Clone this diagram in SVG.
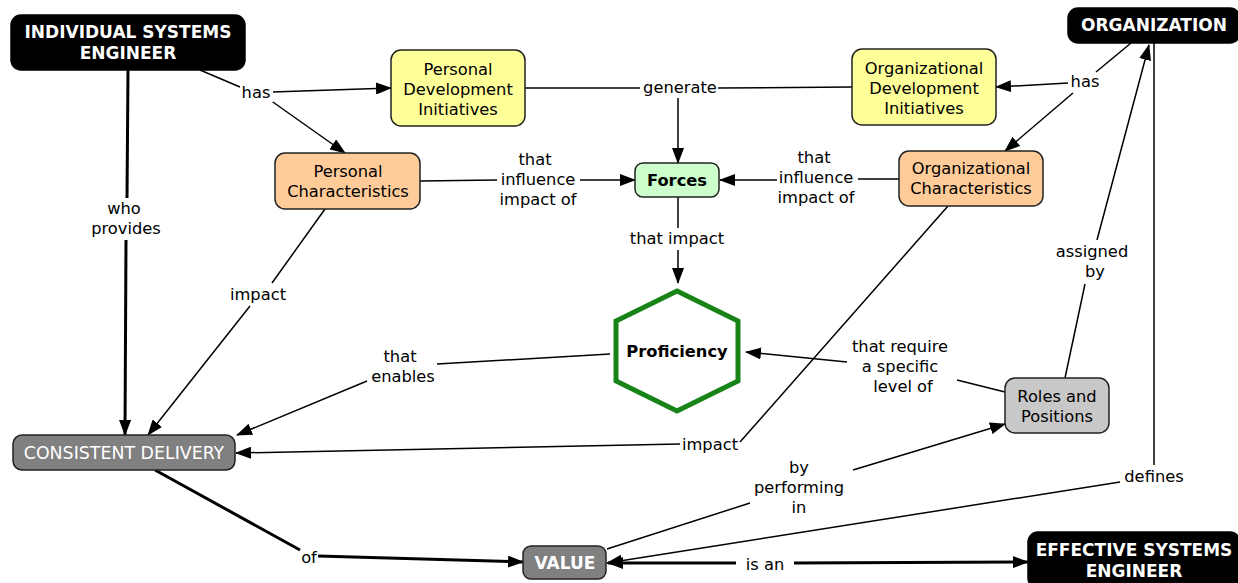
<svg xmlns="http://www.w3.org/2000/svg" width="1238" height="583" viewBox="0 0 1238 583">
<style>
text{font-family:"DejaVu Sans","Verdana",sans-serif;font-size:16.3px;fill:#000;text-anchor:middle}
.b{font-weight:bold;fill:#fff;font-size:17px}
.w{fill:#fff;font-size:17.4px}
.box{stroke:#222;stroke-width:1.5}
.blk{fill:#000;stroke:#000}
.yel{fill:#ffff99}
.org{fill:#ffcc99}
.grn{fill:#ccffcc}
.gry{fill:#c8c8c8}
.dg{fill:#808080}
.c{fill:none;stroke:#000;stroke-width:1.5}
.t{fill:none;stroke:#000;stroke-width:3}
.a{marker-end:url(#ar)}
</style>
<defs>
<marker id="ar" markerUnits="userSpaceOnUse" markerWidth="16" markerHeight="12" refX="15" refY="6" orient="auto">
<path d="M0,0 L16,6 L0,12 z" fill="#000"/>
</marker>
</defs>
<rect width="1238" height="583" fill="#fff"/>
<g id="connectors">
<path class="c" d="M200,70 L240,87"/>
<path class="c a" d="M272,92 L391,88"/>
<path class="c a" d="M270,100 L345,153"/>
<path class="t" d="M128,70 L127,198"/>
<path class="t a" d="M126,240 L125,435"/>
<path class="c" d="M525,88 L640,88"/>
<path class="c" d="M718,88 L852,87"/>
<path class="c a" d="M678,98 L678,163"/>
<path class="c" d="M420,181 L497,180"/>
<path class="c a" d="M580,180 L635,180"/>
<path class="c" d="M899,179 L858,179"/>
<path class="c a" d="M777,180 L720,180"/>
<path class="c" d="M1131,43 L1096,72"/>
<path class="c a" d="M1068,83 L996,87"/>
<path class="c a" d="M1073,93 L1005,151"/>
<path class="c" d="M678,197 L678,228"/>
<path class="c a" d="M678,250 L678,283"/>
<path class="c" d="M325,209 L272,283"/>
<path class="c a" d="M250,306 L148,435"/>
<path class="c" d="M610,354 L437,364"/>
<path class="c a" d="M367,381 L237,435"/>
<path class="c" d="M948,206 L740,442"/>
<path class="c a" d="M680,444 L236,453"/>
<path class="c" d="M1005,392 L957,380"/>
<path class="c a" d="M847,362 L746,352"/>
<path class="c" d="M1065,378 L1085,284"/>
<path class="c a" d="M1097,240 L1149,45"/>
<path class="c" d="M1154,43 L1154,465"/>
<path class="c a" d="M1120,482 L607,563"/>
<path class="c" d="M607,549 L750,503"/>
<path class="c a" d="M853,470 L1005,424"/>
<path class="t" d="M155,470 L300,550"/>
<path class="t a" d="M318,556 L523,562"/>
<path class="t a" d="M736,563 L608,563"/>
<path class="t a" d="M794,563 L1028,562"/>
</g>
<g id="label-has1"><rect x="240" y="82" width="33" height="20" fill="#fff"/><text x="256" y="98">has</text></g>
<g id="label-who"><text x="124" y="214">who</text><text x="126" y="234">provides</text></g>
<g id="label-generate"><text x="680" y="93">generate</text></g>
<g id="label-infl1"><text x="535" y="165">that</text><text x="538" y="185">influence</text><text x="538" y="205">impact of</text></g>
<g id="label-infl2"><text x="814" y="163">that</text><text x="816" y="183">influence</text><text x="816" y="203">impact of</text></g>
<g id="label-has2"><text x="1085" y="87">has</text></g>
<g id="label-thatimpact"><text x="677" y="244">that impact</text></g>
<g id="label-impact1"><text x="258" y="300">impact</text></g>
<g id="label-enables"><text x="400" y="362">that</text><text x="403" y="382">enables</text></g>
<g id="label-impact2"><text x="710" y="450">impact</text></g>
<g id="label-require"><text x="900" y="352">that require</text><text x="900" y="372">a specific</text><text x="903" y="392">level of</text></g>
<g id="label-assigned"><text x="1092" y="257">assigned</text><text x="1095" y="277">by</text></g>
<g id="label-defines"><text x="1154" y="482">defines</text></g>
<g id="label-performing"><text x="799" y="473">by</text><text x="799" y="493">performing</text><text x="799" y="513">in</text></g>
<g id="label-of"><text x="309" y="563">of</text></g>
<g id="label-isan"><text x="765" y="570">is an</text></g>

<g id="n-ise"><rect class="box blk" x="11" y="15" width="234" height="55" rx="10"/><text class="b" x="128" y="38">INDIVIDUAL SYSTEMS</text><text class="b" x="128" y="59">ENGINEER</text></g>
<g id="n-pdi"><rect class="box yel" x="391" y="50" width="134" height="76" rx="10"/><text x="458" y="75">Personal</text><text x="458" y="95">Development</text><text x="458" y="115">Initiatives</text></g>
<g id="n-odi"><rect class="box yel" x="852" y="49" width="144" height="76" rx="10"/><text x="924" y="74">Organizational</text><text x="924" y="94">Development</text><text x="924" y="114">Initiatives</text></g>
<g id="n-org"><rect class="box blk" x="1068" y="8" width="172" height="35" rx="10"/><text class="b" x="1154" y="31">ORGANIZATION</text></g>
<g id="n-pc"><rect class="box org" x="275" y="153" width="145" height="56" rx="10"/><text x="348" y="177">Personal</text><text x="348" y="197">Characteristics</text></g>
<g id="n-forces"><rect class="box grn" x="635" y="163" width="84" height="34" rx="8"/><text x="677" y="186" style="font-weight:bold">Forces</text></g>
<g id="n-oc"><rect class="box org" x="899" y="151" width="144" height="55" rx="10"/><text x="971" y="174">Organizational</text><text x="971" y="194">Characteristics</text></g>
<g id="n-prof"><polygon points="677,291 738,321 738,381 677,411 616,381 616,321" fill="#fff" stroke="#188418" stroke-width="5"/><text x="677" y="357" style="font-weight:bold">Proficiency</text></g>
<g id="n-roles"><rect class="box gry" x="1005" y="378" width="104" height="55" rx="10"/><text x="1057" y="402">Roles and</text><text x="1057" y="422">Positions</text></g>
<g id="n-cd"><rect class="box dg" x="13" y="435" width="222" height="35" rx="9"/><text class="w" x="124" y="459">CONSISTENT DELIVERY</text></g>
<g id="n-value"><rect class="box dg" x="523" y="546" width="83" height="33" rx="8"/><text class="b" x="565" y="569">VALUE</text></g>
<g id="n-ese"><rect class="box blk" x="1028" y="532" width="212" height="56" rx="10"/><text class="b" x="1134" y="556">EFFECTIVE SYSTEMS</text><text class="b" x="1134" y="577">ENGINEER</text></g>
</svg>
